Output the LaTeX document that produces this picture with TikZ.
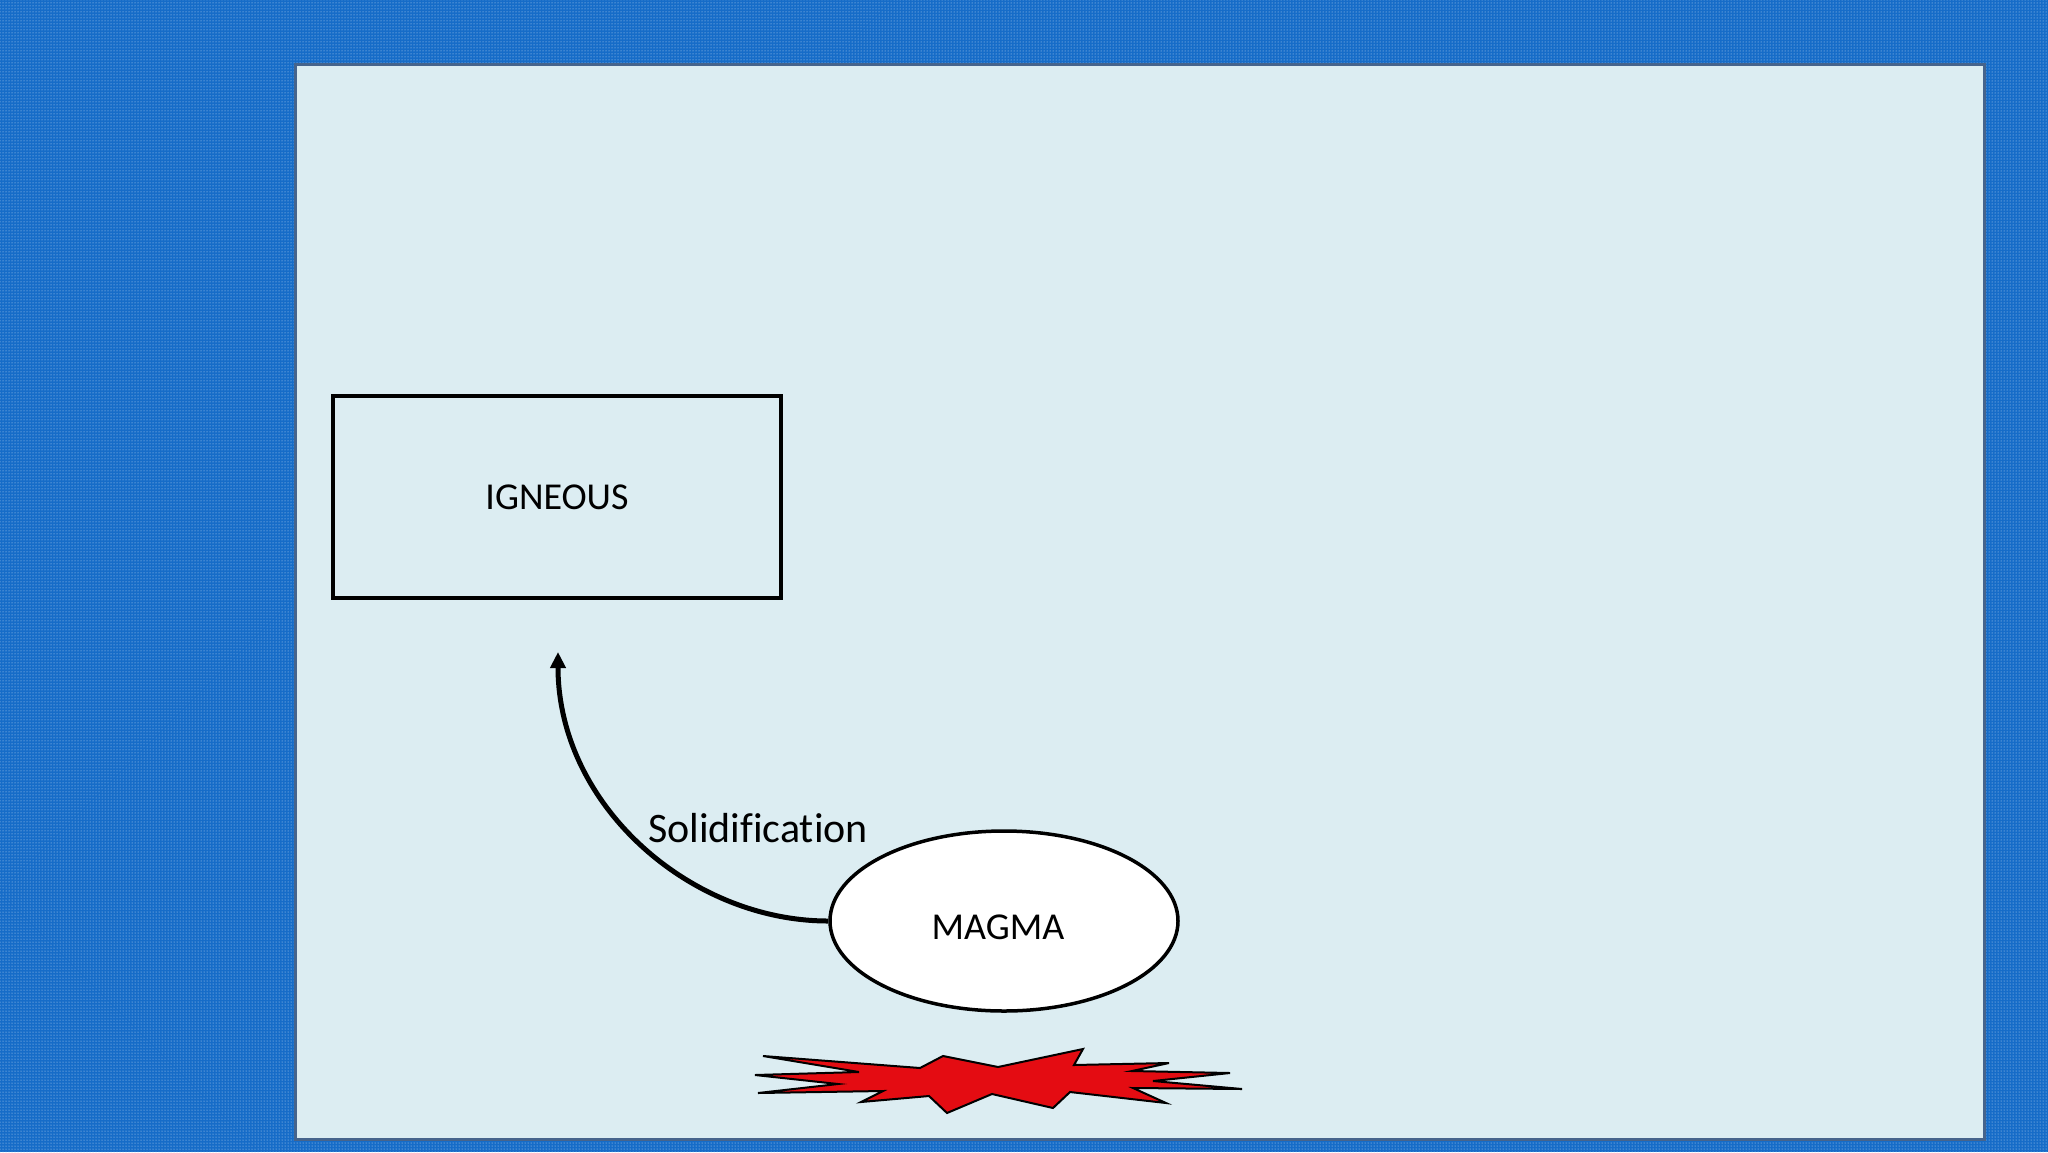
\documentclass[tikz,border=0pt]{standalone}
\usepackage{fontspec}
\setmainfont{Carlito}
\usetikzlibrary{patterns,arrows.meta,shapes.geometric}
\definecolor{bgblue}{RGB}{22,108,200}
\definecolor{panel}{RGB}{220,237,242}
\definecolor{edge}{RGB}{70,100,140}
\definecolor{starred}{RGB}{228,12,18}
\tikzset{lbl/.style={font=\fontsize{38}{44}\selectfont, text=black}}
\begin{document}
\begin{tikzpicture}[x=1pt,y=-1pt]
\useasboundingbox (0,0) rectangle (2048,1152);
\fill[bgblue] (0,0) rectangle (2048,1152);
\fill[pattern=dots, pattern color=white!75!bgblue] (0,0) rectangle (2048,1152);
\draw[edge, line width=3pt, fill=panel] (295,64) rectangle (1984,1139);
\node[draw=black, line width=3.5pt, minimum width=448pt, minimum height=202pt, lbl] (ign) at (557,497) {IGNEOUS};
\node[draw=black, line width=3.5pt, fill=white, ellipse, minimum width=348pt, minimum height=180pt, inner sep=0pt, lbl] (mag) at (1004,921) {};
\node[lbl] (magt) at (998,927) {MAGMA};
\coordinate (tip) at (558,652);
\draw[line width=5pt, -{Triangle[length=16pt,width=15pt]}] (mag.west) .. controls (690,921) and (558,805) .. (tip);
\node[lbl, font=\fontsize{42}{48}\selectfont\addfontfeature{Ligatures=NoCommon}] (sol) at (758,828) {Solidification};
\draw[fill=starred, draw=black, line width=2pt] (763,1056) -- (920,1068) -- (943,1056) -- (998,1067) -- (1083,1049) -- (1074,1065) -- (1169,1063) -- (1132,1071) -- (1230,1073) -- (1153,1081) -- (1242,1089) -- (1133,1088) -- (1166,1103) -- (1070,1092) -- (1053,1108) -- (992,1094) -- (947,1113) -- (929,1096) -- (861,1102) -- (883,1091) -- (758,1093) -- (838,1084) -- (755,1075) -- (859,1072) -- cycle;
\end{tikzpicture}
\end{document}
